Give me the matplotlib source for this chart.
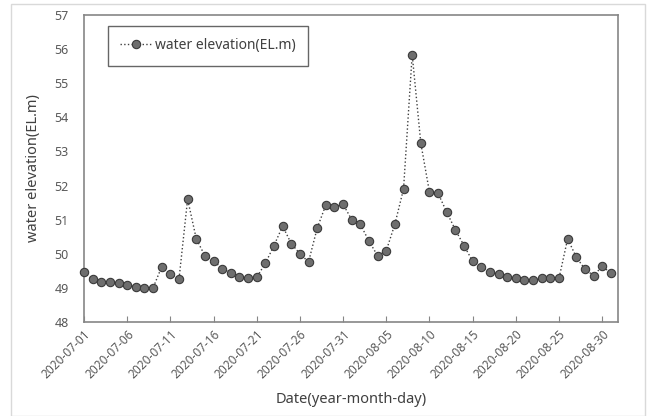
import numpy as np
import pandas as pd
import matplotlib
matplotlib.use("Agg")
import matplotlib.pyplot as plt
from matplotlib.patches import Rectangle

plt.rcParams['font.family'] = ['Noto Sans', 'DejaVu Sans']

# daily water elevation, 2020-07-01 .. 2020-08-31
dates = pd.date_range("2020-07-01", "2020-08-31", freq="D")
elevation = [
    49.46, 49.25, 49.16, 49.18, 49.13, 49.07, 49.04, 49.00, 49.00, 49.62,
    49.41, 49.25, 51.60, 50.44, 49.94, 49.80, 49.56, 49.45, 49.33, 49.28,
    49.31, 49.72, 50.24, 50.81, 50.30, 50.00, 49.76, 50.75, 51.43, 51.38,
    51.45, 51.00, 50.86, 50.37, 49.94, 50.09, 50.87, 51.90, 55.84, 53.24,
    51.81, 51.77, 51.22, 50.70, 50.24, 49.78, 49.61, 49.47, 49.40, 49.33,
    49.28, 49.23, 49.23, 49.28, 49.30, 49.28, 50.44, 49.90, 49.55, 49.36,
    49.63, 49.44,
]
tick_step = 5
y_ticks = list(range(48, 58))

fig = plt.figure(figsize=(6.53, 4.16), dpi=100)
ax = fig.add_axes([0.1286, 0.226, 0.8174, 0.738])

x = np.arange(len(dates))
ax.plot(x, elevation, linestyle=':', color='#404040', linewidth=1.0,
        marker='o', markersize=6, markerfacecolor='#6e6e6e',
        markeredgecolor='#3a3a3a', markeredgewidth=0.8,
        label='water elevation(EL.m)', clip_on=False, zorder=3)

ax.set_xlim(0, len(dates) - 0.2)
ax.set_ylim(48, 57)
ax.set_yticks(y_ticks)
ax.set_yticklabels([str(v) for v in y_ticks])
tick_pos = x[::tick_step]
ax.set_xticks(tick_pos)
ax.set_xticklabels([dates[i].strftime("%Y-%m-%d") for i in tick_pos],
                   rotation=45, ha='right', va='top', rotation_mode='anchor')

ax.tick_params(axis='x', direction='in', length=4, color='#868686',
               labelsize=8.5, labelcolor='#595959', pad=4)
ax.tick_params(axis='y', length=0, labelsize=9, labelcolor='#595959', pad=11)
for s in ax.spines.values():
    s.set_color('#868686')
    s.set_linewidth(1.2)

ax.set_xlabel("Date(year-month-day)", fontsize=10.5, color='#404040', labelpad=8)
ax.set_ylabel("water elevation(EL.m)", fontsize=10.5, color='#404040', labelpad=10)

leg = ax.legend(loc='upper left', bbox_to_anchor=(0.045, 0.965), fontsize=10,
                frameon=True, fancybox=False, borderpad=0.9, handlelength=2.2,
                handletextpad=0.3, borderaxespad=0)
leg.get_frame().set_edgecolor('#404040')
leg.get_frame().set_linewidth(1.0)
for t in leg.get_texts():
    t.set_color('#404040')

# light chart-area border
fig.patches.append(Rectangle((11 / 653, 0), (645 - 11) / 653, 1 - 4 / 416,
                             transform=fig.transFigure, fill=False,
                             edgecolor='#d9d9d9', linewidth=1.0))

fig.savefig("out.png", dpi=100)
